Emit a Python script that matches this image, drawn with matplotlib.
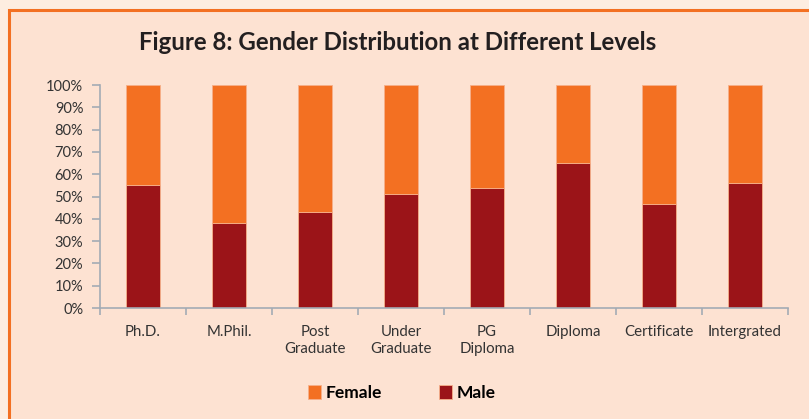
import matplotlib.pyplot as plt
import numpy as np
from matplotlib.patches import Rectangle
from matplotlib.ticker import PercentFormatter

# data
levels = ['Ph.D.', 'M.Phil.', 'Post\nGraduate', 'Under\nGraduate', 'PG\nDiploma',
          'Diploma', 'Certificate', 'Intergrated']
male = [55, 38, 43, 51, 54, 65, 46.5, 56]
female = [100 - m for m in male]

male_color = '#9B1418'
female_color = '#F37022'
bg = '#FDE2D2'
axis_color = '#A3ABB5'

plt.rcParams['font.family'] = ['Lato', 'DejaVu Sans']

fig = plt.figure(figsize=(8.09, 4.19), dpi=100)
fig.patch.set_facecolor('#FDEDE0')

# inner panel with orange border on top and left
fig.patches.append(Rectangle((9 / 809, -0.1), 1.2, (419 - 10) / 419 + 0.1,
                             transform=fig.transFigure, facecolor=bg,
                             edgecolor='#F37022', linewidth=2.2, zorder=-10))

ax = fig.add_axes([100 / 809, (419 - 308) / 419, 688 / 809, 223 / 419])
ax.set_facecolor('none')

x = np.arange(len(levels))
ax.bar(x, male, width=0.4, color=male_color, edgecolor='#F6B08A', linewidth=0.6,
       label='Male', zorder=2)
ax.bar(x, female, width=0.4, bottom=male, color=female_color, edgecolor='#F6B08A',
       linewidth=0.6, label='Female', zorder=2)

ax.set_xlim(-0.5, len(levels) - 0.5)
ax.set_ylim(0, 100)
ax.set_yticks(np.arange(0, 101, 10))
ax.yaxis.set_major_formatter(PercentFormatter(decimals=0))
ax.set_xticks(x)
ax.set_xticklabels(levels, fontsize=10.8, color='#333333', linespacing=1.3)
ax.set_xticks(np.arange(-0.5, len(levels), 1), minor=True)
ax.tick_params(axis='x', which='major', length=0, pad=12)
ax.tick_params(axis='x', which='minor', length=5, color=axis_color, width=1.2)
ax.tick_params(axis='y', length=6, color=axis_color, width=1.2, labelsize=10.5,
               labelcolor='#333333', pad=6)

for s in ['top', 'right']:
    ax.spines[s].set_visible(False)
for s in ['left', 'bottom']:
    ax.spines[s].set_color(axis_color)
    ax.spines[s].set_linewidth(1.2)

fig.text(0.492, 0.898, 'Figure 8: Gender Distribution at Different Levels',
         ha='center', va='center', fontsize=17.3, fontweight='bold', color='#231F20')

handles, labels = ax.get_legend_handles_labels()
fig.legend(handles[::-1], labels[::-1], loc='center', bbox_to_anchor=(0.497, 0.062),
           ncol=2, frameon=False, handlelength=0.7, handleheight=0.9,
           handletextpad=0.3, columnspacing=3.3,
           prop={'size': 12.5, 'weight': 'bold'})

fig.savefig('out.png', dpi=100, facecolor=fig.get_facecolor())
